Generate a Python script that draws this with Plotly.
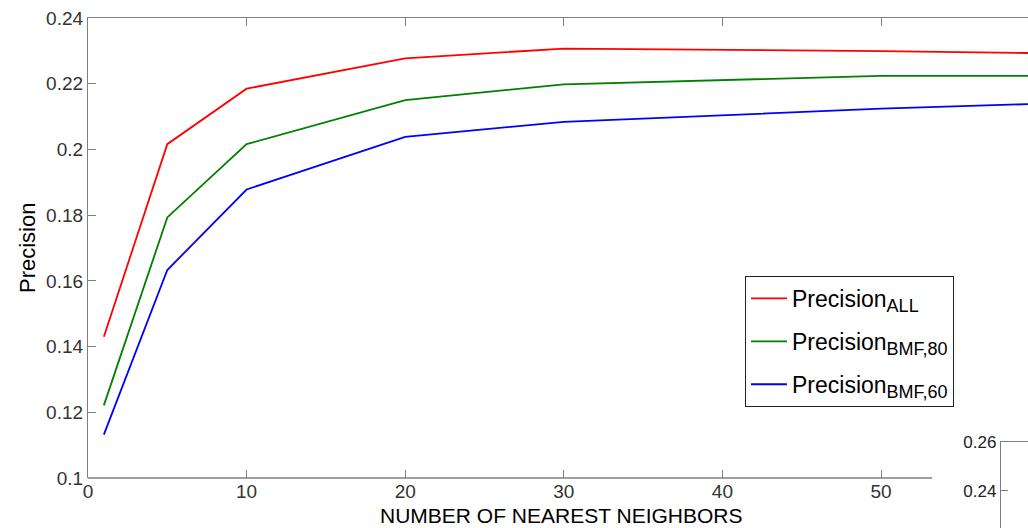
import plotly.graph_objects as go

# ---- data ----
neighbors = [1, 5, 10, 20, 30, 40, 50, 60]
prec_all = [0.1430, 0.2016, 0.2185, 0.2277, 0.2307, 0.2304, 0.2299, 0.2293]
prec_bmf80 = [0.1221, 0.1793, 0.2016, 0.2150, 0.2198, 0.2212, 0.2224, 0.2224]
prec_bmf60 = [0.1132, 0.1633, 0.1878, 0.2038, 0.2084, 0.2104, 0.2124, 0.2139]
x_ticks = [0, 10, 20, 30, 40, 50]
y_ticks = [0.1, 0.12, 0.14, 0.16, 0.18, 0.2, 0.22, 0.24]
inset_y_ticks = [0.24, 0.26]

W, H = 1028, 528
L, T, B = 88, 18, 478
px_per_x = 15.86
x_max = (W - L) / px_per_x

FONT = "Liberation Sans, Arial, sans-serif"
AX = "#7f7f7f"
TICKC = "#333333"

fig = go.Figure()

names = [
    'Precision<sub><span style="font-size:18px">ALL</span></sub>',
    'Precision<sub><span style="font-size:18px">BMF,80</span></sub>',
    'Precision<sub><span style="font-size:18px">BMF,60</span></sub>',
]
series = [prec_all, prec_bmf80, prec_bmf60]
colors = ["#ff0000", "#008000", "#0000ff"]
for i, (n, s, c) in enumerate(zip(names, series, colors)):
    fig.add_trace(go.Scatter(x=neighbors, y=s, mode="lines", name=n, legendgroup=f"g{i}",
                             line=dict(color=c, width=1.8), xaxis="x", yaxis="y"))

# invisible trace for the top mirrored axis
fig.add_trace(go.Scatter(x=[0], y=[0.1], mode="markers", marker=dict(opacity=0),
                         showlegend=False, hoverinfo="skip", xaxis="x3", yaxis="y"))
# inset axes trace
fig.add_trace(go.Scatter(x=[0], y=[0.25], mode="markers", marker=dict(opacity=0),
                         showlegend=False, hoverinfo="skip", xaxis="x2", yaxis="y2"))

ydom = [(H - B) / H, 1 - T / H]
fig.update_layout(
    template="none",
    width=W, height=H,
    margin=dict(l=0, r=0, t=0, b=0, pad=0, autoexpand=False),
    paper_bgcolor="white", plot_bgcolor="white",
    font=dict(family=FONT, size=19, color=TICKC),
    xaxis=dict(domain=[L / W, 1], range=[0, x_max], tickvals=x_ticks, automargin=False,
               showgrid=False, zeroline=False, showline=False,
               ticks="inside", ticklen=8, tickcolor=AX, tickwidth=1,
               tickfont=dict(size=19, color=TICKC), anchor="y"),
    xaxis3=dict(overlaying="x", side="top", range=[0, x_max], tickvals=x_ticks, automargin=False,
                showgrid=False, zeroline=False, showline=True, linecolor=AX, linewidth=1.3,
                ticks="inside", ticklen=8, tickcolor=AX, showticklabels=False, anchor="y"),
    yaxis=dict(domain=ydom, range=[0.1, 0.24], tickvals=y_ticks, automargin=False,
               showgrid=False, zeroline=False, showline=True, linecolor=AX, linewidth=1.3,
               ticks="inside", ticklen=8, tickcolor=AX,
               tickfont=dict(size=19, color=TICKC), anchor="x"),
    xaxis2=dict(domain=[1001 / W, 1], range=[0, 1], side="top", showgrid=False, zeroline=False,
                showline=True, linecolor=AX, linewidth=1.3, ticks="", showticklabels=False,
                anchor="y2", automargin=False),
    yaxis2=dict(domain=[0, (H - 441.7) / H], range=[0.26 - 0.02 * (H - 441.7) / 49, 0.26],
                tickvals=inset_y_ticks, showgrid=False, zeroline=False, automargin=False,
                showline=True, linecolor=AX, linewidth=1.3,
                ticks="inside", ticklen=7, tickcolor=AX,
                tickfont=dict(size=17, color="#222222"), anchor="x2"),
    showlegend=True,
    legend=dict(x=745 / W, y=1 - 276 / H, xanchor="left", yanchor="top",
                bgcolor="white", bordercolor="#222222", borderwidth=1,
                font=dict(size=23, color="black", family=FONT),
                itemwidth=36, tracegroupgap=10),
)

# bottom x-axis line (ends where the neighbouring panel begins)
fig.add_shape(type="line", xref="paper", yref="paper",
              x0=L / W, x1=932 / W, y0=(H - B) / H, y1=(H - B) / H,
              line=dict(color=AX, width=1.3))

fig.add_annotation(text="NUMBER OF NEAREST NEIGHBORS", xref="paper", yref="paper",
                   x=561 / W, y=1 - 515 / H, xanchor="center", yanchor="middle",
                   showarrow=False, font=dict(size=21, color="black", family=FONT))
fig.add_annotation(text="Precision", xref="paper", yref="paper",
                   x=27 / W, y=1 - 248 / H, xanchor="center", yanchor="middle",
                   showarrow=False, textangle=-90,
                   font=dict(size=22, color="black", family=FONT))

fig.write_html("out.html")
